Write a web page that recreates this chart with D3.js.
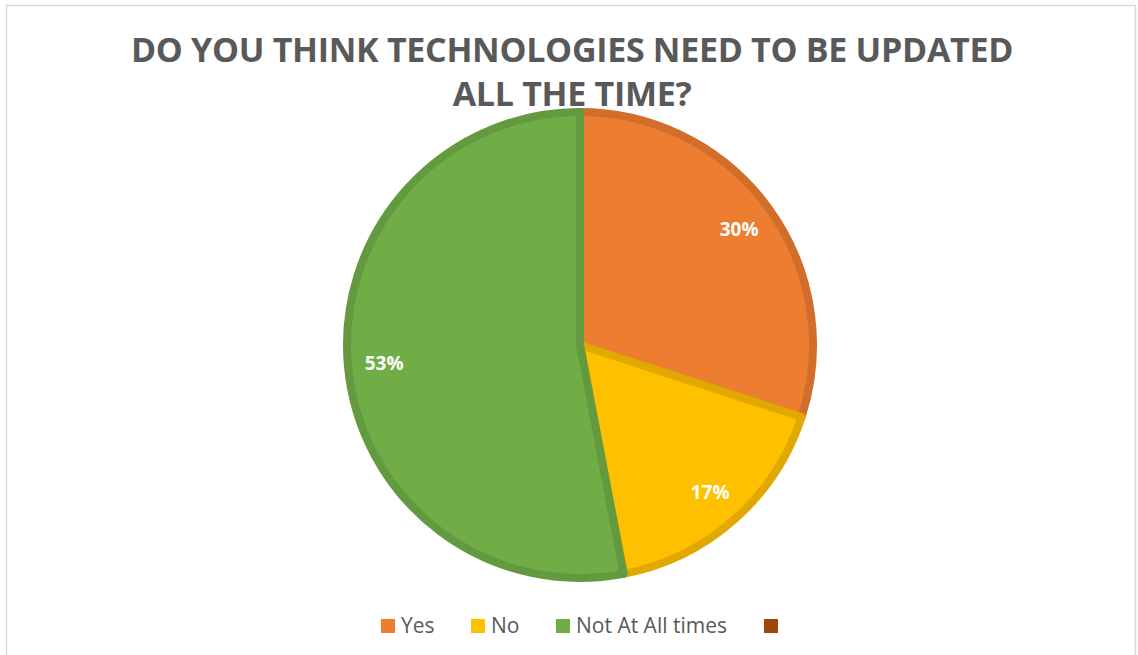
<!DOCTYPE html>
<html>
<head>
<meta charset="utf-8">
<script src="https://cdn.jsdelivr.net/npm/d3@7"></script>
<style>
  body { margin:0; background:#fff; }
  svg { display:block; }
</style>
</head>
<body>
<svg id="viewer"></svg>
<script>
var titleLines = ['DO YOU THINK TECHNOLOGIES NEED TO BE UPDATED', 'ALL THE TIME?'];
var categories = ['Yes', 'No', 'Not At All times', ''];
var values = [30, 17, 53, 0];
var colors = ['#ED7D31', '#FFC000', '#70AD47', '#9E480E'];

var width = 1138, height = 655;
var cx = 580, cy = 345, R = 237;

var viewer = d3.select('#viewer')
  .attr('width', width)
  .attr('height', height);

// chart frame
viewer.append('rect')
  .attr('x', 6.5)
  .attr('y', 5.5)
  .attr('width', 1129)
  .attr('height', 700)
  .attr('fill', '#fff')
  .attr('stroke', '#d9d9d9')
  .attr('stroke-width', 1.5);

viewer.selectAll('.title')
  .data(titleLines)
  .enter().append('text')
    .attr('class', 'title')
    .attr('x', 572)
    .attr('y', function(d, i) { return 62 + i * 44; })
    .attr('text-anchor', 'middle')
    .style('font-family', '"Open Sans", sans-serif')
    .style('font-weight', 'bold')
    .style('font-size', '34px')
    .style('letter-spacing', '-0.3px')
    .style('fill', '#595959')
    .text(function(d) { return d; });

var pie = d3.pie().sort(null).value(function(d) { return d; });
var arcs = pie(values);

var arc = d3.arc().innerRadius(0).outerRadius(R - 4);
var labelArc = d3.arc().innerRadius(R * 0.83).outerRadius(R * 0.83);

var pieG = viewer.append('g')
  .attr('transform', 'translate(' + cx + ',' + cy + ')');

pieG.selectAll('.slice')
  .data(arcs.filter(function(d) { return d.value > 0; }))
  .enter().append('path')
    .attr('class', 'slice')
    .attr('d', arc)
    .attr('fill', function(d) { return colors[d.index]; })
    .attr('stroke', function(d) { return d3.color(colors[d.index]).darker(0.35); })
    .attr('stroke-width', 8)
    .attr('stroke-linejoin', 'round');

var total = d3.sum(values);
pieG.selectAll('.label')
  .data(arcs.filter(function(d) { return d.value > 0; }))
  .enter().append('text')
    .attr('class', 'label')
    .attr('transform', function(d) { return 'translate(' + labelArc.centroid(d) + ')'; })
    .attr('text-anchor', 'middle')
    .attr('dy', '0.35em')
    .style('font-family', '"Open Sans", sans-serif')
    .style('font-weight', 'bold')
    .style('font-size', '19px')
    .style('fill', '#fff')
    .text(function(d) { return Math.round(d.value / total * 100) + '%'; });

// legend
var legendX = [381, 471, 556, 764];
var legend = viewer.selectAll('.legend')
  .data(categories)
  .enter().append('g')
    .attr('class', 'legend')
    .attr('transform', function(d, i) { return 'translate(' + legendX[i] + ',626)'; });

legend.append('rect')
  .attr('x', 0)
  .attr('y', -7)
  .attr('width', 14)
  .attr('height', 14)
  .attr('fill', function(d, i) { return colors[i]; });

legend.append('text')
  .attr('x', 20)
  .attr('dy', '0.35em')
  .style('font-family', '"Open Sans", sans-serif')
  .style('font-size', '21px')
  .style('fill', '#595959')
  .text(function(d) { return d; });
</script>
</body>
</html>
